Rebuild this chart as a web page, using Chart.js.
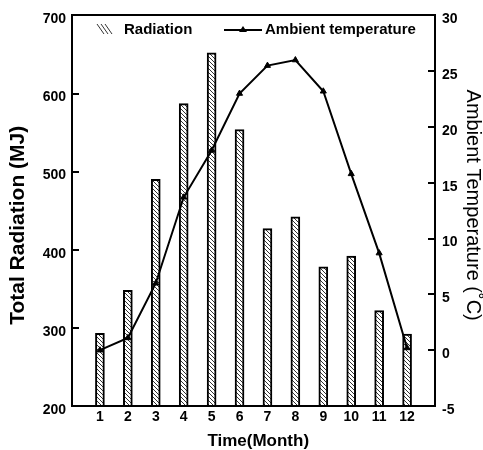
<!DOCTYPE html>
<html>
<head>
<meta charset="utf-8">
<script src="https://cdn.jsdelivr.net/npm/chart.js@4.4.0/dist/chart.umd.min.js"></script>
<style>
  html, body { margin: 0; padding: 0; background: #fff; }
  #wrap { width: 483px; height: 450px; }
</style>
</head>
<body>
<div id="wrap"><canvas id="chart"></canvas></div>
<script>
// --- Data ---
const months = [1, 2, 3, 4, 5, 6, 7, 8, 9, 10, 11, 12];
const radiation = [293, 348, 490, 587, 652, 554, 427, 442, 378, 392, 322, 292];
const temperature = [0.0, 1.1, 6.0, 13.7, 17.9, 23.0, 25.5, 26.0, 23.2, 15.8, 8.7, 0.2];

const FONT = 'Arial, "Liberation Sans", sans-serif';

// diagonal hatch used for the radiation bars
const makeHatch = (ctx) => {
    const c = document.createElement('canvas');
    c.width = 4; c.height = 4;
    const g = c.getContext('2d');
    g.fillStyle = '#fff';
    g.fillRect(0, 0, 4, 4);
    g.strokeStyle = '#333';
    g.lineWidth = 1;
    g.beginPath();
    g.moveTo(-1, -1); g.lineTo(5, 5);
    g.moveTo(-1, 3); g.lineTo(1, 5);
    g.moveTo(3, -1); g.lineTo(5, 1);
    g.stroke();
    return ctx.createPattern(c, 'repeat');
};

// frame, inward tick marks and the legend inside the plot
const framePlugin = {
    id: 'framePlugin',
    afterDraw(chart) {
        const { ctx, chartArea: a, scales } = chart;
        ctx.save();
        ctx.fillStyle = '#000';
        const l = Math.round(a.left), r = Math.round(a.right);
        const t = Math.round(a.top), b = Math.round(a.bottom);
        ctx.fillRect(l - 1, t - 1, r - l + 2, 2);
        ctx.fillRect(l - 1, b - 1, r - l + 2, 2);
        ctx.fillRect(l - 1, t - 1, 2, b - t + 2);
        ctx.fillRect(r - 1, t - 1, 2, b - t + 2);

        scales.y.ticks.forEach(tk => {
            const py = Math.round(scales.y.getPixelForValue(tk.value));
            ctx.fillRect(l, py - 1, 7, 2);
        });
        scales.y2.ticks.forEach(tk => {
            const py = Math.round(scales.y2.getPixelForValue(tk.value));
            ctx.fillRect(r - 7, py - 1, 7, 2);
        });

        // legend
        const ly = 30;
        ctx.lineWidth = 1;
        ctx.strokeStyle = '#333';
        for (let i = 0; i < 3; i++) {
            ctx.beginPath();
            ctx.moveTo(97 + i * 4, 24);
            ctx.lineTo(104 + i * 4, 34);
            ctx.stroke();
        }
        ctx.font = 'bold 15px ' + FONT;
        ctx.textBaseline = 'middle';
        ctx.fillText(chart.data.datasets[1].label, 124, ly);

        ctx.strokeStyle = '#000';
        ctx.lineWidth = 2;
        ctx.beginPath(); ctx.moveTo(224, ly); ctx.lineTo(262, ly); ctx.stroke();
        ctx.beginPath();
        ctx.moveTo(243, ly - 4); ctx.lineTo(247, ly + 2); ctx.lineTo(239, ly + 2);
        ctx.closePath(); ctx.fill();
        ctx.fillText(chart.data.datasets[0].label, 265, ly);
        ctx.restore();
    }
};

const ctx = document.getElementById('chart').getContext('2d');
new Chart(ctx, {
    type: 'bar',
    data: {
        datasets: [
            {
                type: 'line',
                label: 'Ambient temperature',
                data: months.map((m, i) => ({ x: m, y: temperature[i] })),
                yAxisID: 'y2',
                borderColor: '#000',
                backgroundColor: '#000',
                borderWidth: 2,
                pointStyle: 'triangle',
                pointRadius: 3.5,
                pointBorderWidth: 1,
                tension: 0,
                order: 0
            },
            {
                type: 'bar',
                label: 'Radiation',
                data: months.map((m, i) => ({ x: m, y: radiation[i] })),
                yAxisID: 'y',
                backgroundColor: makeHatch(ctx),
                borderColor: '#000',
                borderWidth: 2,
                barThickness: 9,
                order: 1
            }
        ]
    },
    options: {
        responsive: true,
        maintainAspectRatio: false,
        animation: false,
        layout: { padding: { top: 7, left: 0, right: 0, bottom: 0 } },
        plugins: {
            legend: { display: false },
            tooltip: { enabled: false }
        },
        scales: {
            x: {
                type: 'linear',
                offset: false,
                min: 0,
                max: 13,
                grid: { display: false, drawTicks: false },
                border: { display: false },
                afterFit: s => { s.height = 44; },
                ticks: {
                    stepSize: 1,
                    padding: 3,
                    color: '#000',
                    font: { family: FONT, size: 14, weight: 'bold' },
                    callback: v => (v >= 1 && v <= 12 ? v : '')
                },
                title: {
                    display: true,
                    text: '  Time(Month)',
                    color: '#000',
                    font: { family: FONT, size: 17, weight: 'bold', lineHeight: 1 },
                    padding: { top: 2, bottom: 0 }
                }
            },
            y: {
                position: 'left',
                min: 200,
                max: 700,
                grid: { display: false, drawTicks: false },
                border: { display: false },
                afterFit: s => { s.width = 72; },
                ticks: {
                    stepSize: 100,
                    padding: 6,
                    labelOffset: 4,
                    color: '#000',
                    font: { family: FONT, size: 14, weight: 'bold' }
                },
                title: {
                    display: true,
                    text: 'Total Radiation (MJ)     ',
                    color: '#000',
                    font: { family: FONT, size: 21, weight: 'bold', lineHeight: 1 },
                    padding: { top: 8, bottom: 0 }
                }
            },
            y2: {
                position: 'right',
                min: -5,
                max: 30,
                grid: { display: false, drawTicks: false },
                border: { display: false },
                afterFit: s => { s.width = 48; },
                ticks: {
                    stepSize: 5,
                    padding: 7,
                    labelOffset: 4,
                    color: '#000',
                    font: { family: FONT, size: 14, weight: 'bold' }
                },
                title: {
                    display: true,
                    text: 'Ambient Temperature (˚C)  ',
                    color: '#000',
                    font: { family: FONT, size: 20, lineHeight: 1 },
                    padding: { top: 0, bottom: 0 }
                }
            }
        }
    },
    plugins: [framePlugin]
});
</script>
</body>
</html>
